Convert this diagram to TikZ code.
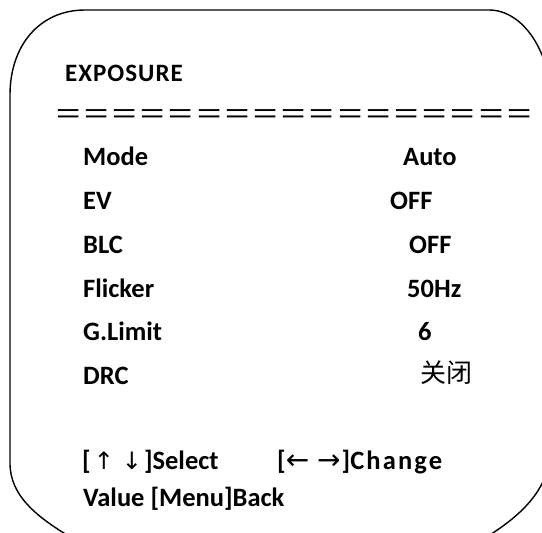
\documentclass[tikz,border=0pt]{standalone}
\usepackage{fontspec}
\setmainfont{Carlito}
\newfontfamily\cjk{Noto Sans CJK SC}
\newfontfamily\arrfont{DejaVu Sans}
\usetikzlibrary{positioning}
\newcommand{\arw}[2]{{\arrfont\mdseries\fontsize{#1}{30}\selectfont #2}}

\begin{document}
\begin{tikzpicture}[x=1pt,y=-1pt,
    lbl/.style={anchor=base west,inner sep=0pt,font=\fontsize{26.5}{30}\selectfont\bfseries},
    frame/.style={line width=1.4pt}]
    \path[use as bounding box] (0,0) rectangle (542,533);
    \clip (0,0) rectangle (542,533);

    % screen outline, right and lower edges run off the page
    \draw[frame] (10,463) -- (10,95) .. controls (10,45) and (40,10) .. (85,10)
        -- (489,10) .. controls (522,10) and (552,50) .. (552,110)
        -- (552,440) .. controls (552,485) and (527,512) .. (485,538)
        -- (72,538) .. controls (35,516) and (10,495) .. (10,463) -- cycle;

    \node[lbl,font=\fontsize{25}{27}\selectfont\bfseries\addfontfeature{LetterSpace=4}] (title) at (65,81) {EXPOSURE};
    \node[anchor=base west,inner sep=0pt,font=\cjk\fontsize{28.2}{30}\selectfont] (rule) at (54,124.5)
        {＝＝＝＝＝＝＝＝＝＝＝＝＝＝＝＝＝};

    \node[lbl] (mode) at (83,165.5) {Mode};
    \node[lbl] (ev) at (83,209.5) {EV};
    \node[lbl] (blc) at (83,253.5) {BLC};
    \node[lbl] (flicker) at (83,297.5) {Flicker};
    \node[lbl] (glimit) at (83,340.5) {G.Limit};
    \node[lbl] (drc) at (83,384.5) {DRC};

    \node[lbl] (modev) at (403,165.5) {Auto};
    \node[lbl] (evv) at (390,209.5) {OFF};
    \node[lbl] (blcv) at (409,253.5) {OFF};
    \node[lbl] (flickerv) at (407,297.5) {50Hz};
    \node[lbl] (glimitv) at (418,340.5) {6};
    \node[anchor=base west,inner sep=0pt,font=\cjk\fontsize{26}{28}\selectfont] (drcv) at (420,382) {关闭};

    \node[lbl] (select) at (82,469) {[\hspace{3pt}\arw{24}{↑}\hspace{8pt}\arw{24}{↓}\hspace{2pt}]Select};
    \node[lbl] (change) at (277,469) {[\arw{28}{←}\hspace{8pt}\arw{28}{→}\hspace{1pt}]{\addfontfeature{LetterSpace=8}Change}};
    \node[lbl] (back) at (83,506) {Value [Menu]Back};
\end{tikzpicture}
\end{document}
